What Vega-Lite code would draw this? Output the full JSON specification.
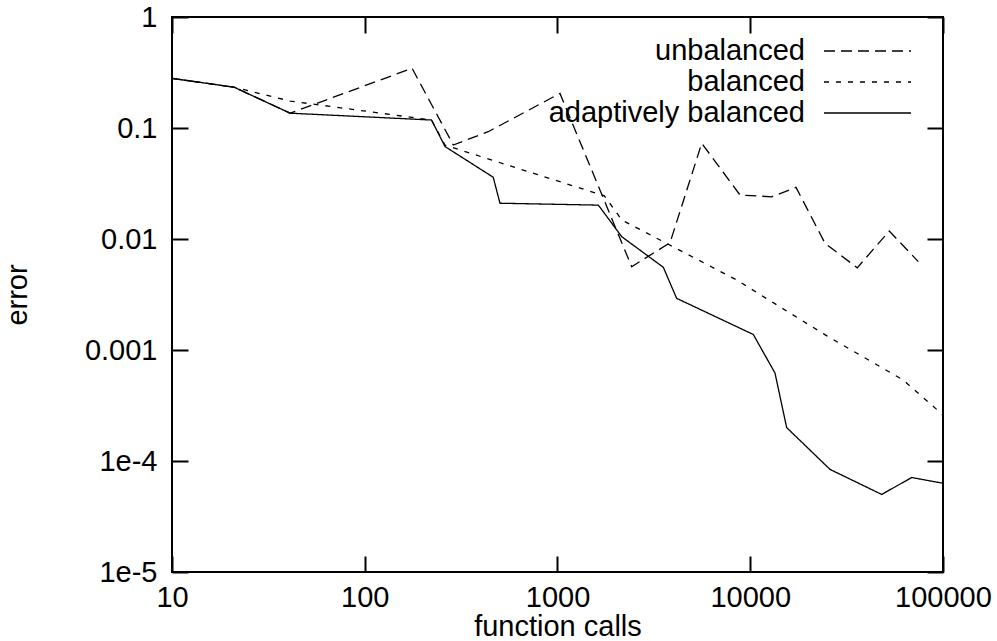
{
  "$schema": "https://vega.github.io/schema/vega-lite/v6.json",
  "width": 771,
  "height": 555,
  "autosize": "none",
  "padding": {"left": 172, "top": 17, "right": 54, "bottom": 69},
  "background": "white",
  "config": {
    "font": "Liberation Sans",
    "view": {"stroke": "black", "strokeWidth": 2},
    "axis": {
      "domain": false,
      "grid": false,
      "ticks": true,
      "tickColor": "black",
      "tickWidth": 2,
      "tickSize": -16,
      "labelColor": "black",
      "labelFontSize": 29,
      "labelFont": "Liberation Sans",
      "titleFont": "Liberation Sans",
      "titleFontSize": 29,
      "titleFontWeight": "normal",
      "titleColor": "black"
    }
  },
  "data": {
    "values": [
      {"series": "unbalanced", "calls": 10, "error": 0.28},
      {"series": "unbalanced", "calls": 21, "error": 0.233},
      {"series": "unbalanced", "calls": 41, "error": 0.136},
      {"series": "unbalanced", "calls": 176, "error": 0.345},
      {"series": "unbalanced", "calls": 288, "error": 0.0703},
      {"series": "unbalanced", "calls": 437, "error": 0.0926},
      {"series": "unbalanced", "calls": 1030, "error": 0.205},
      {"series": "unbalanced", "calls": 2426, "error": 0.00563},
      {"series": "unbalanced", "calls": 3836, "error": 0.00926},
      {"series": "unbalanced", "calls": 5600, "error": 0.0728},
      {"series": "unbalanced", "calls": 8850, "error": 0.0249},
      {"series": "unbalanced", "calls": 12920, "error": 0.024},
      {"series": "unbalanced", "calls": 17270, "error": 0.0292},
      {"series": "unbalanced", "calls": 24430, "error": 0.00915},
      {"series": "unbalanced", "calls": 35900, "error": 0.0055},
      {"series": "unbalanced", "calls": 52610, "error": 0.0118},
      {"series": "unbalanced", "calls": 74470, "error": 0.00625},
      {"series": "balanced", "calls": 10, "error": 0.28},
      {"series": "balanced", "calls": 21, "error": 0.233},
      {"series": "balanced", "calls": 41, "error": 0.175},
      {"series": "balanced", "calls": 222, "error": 0.118},
      {"series": "balanced", "calls": 261, "error": 0.07},
      {"series": "balanced", "calls": 1750, "error": 0.0245},
      {"series": "balanced", "calls": 2160, "error": 0.0148},
      {"series": "balanced", "calls": 8510, "error": 0.00427},
      {"series": "balanced", "calls": 13770, "error": 0.00254},
      {"series": "balanced", "calls": 25000, "error": 0.00134},
      {"series": "balanced", "calls": 62080, "error": 0.000537},
      {"series": "balanced", "calls": 100000, "error": 0.00026},
      {"series": "adaptively balanced", "calls": 10, "error": 0.28},
      {"series": "adaptively balanced", "calls": 21, "error": 0.233},
      {"series": "adaptively balanced", "calls": 41, "error": 0.136},
      {"series": "adaptively balanced", "calls": 222, "error": 0.118},
      {"series": "adaptively balanced", "calls": 261, "error": 0.068},
      {"series": "adaptively balanced", "calls": 464, "error": 0.036},
      {"series": "adaptively balanced", "calls": 503, "error": 0.021},
      {"series": "adaptively balanced", "calls": 1629, "error": 0.0202},
      {"series": "adaptively balanced", "calls": 2153, "error": 0.0105},
      {"series": "adaptively balanced", "calls": 3540, "error": 0.00556},
      {"series": "adaptively balanced", "calls": 4150, "error": 0.00292},
      {"series": "adaptively balanced", "calls": 10370, "error": 0.00138},
      {"series": "adaptively balanced", "calls": 13440, "error": 0.00062},
      {"series": "adaptively balanced", "calls": 15450, "error": 0.0002},
      {"series": "adaptively balanced", "calls": 25930, "error": 0.000084},
      {"series": "adaptively balanced", "calls": 48080, "error": 0.00005},
      {"series": "adaptively balanced", "calls": 68850, "error": 0.000071},
      {"series": "adaptively balanced", "calls": 100000, "error": 0.000063}
    ]
  },
  "layer": [
    {
      "mark": {"type": "line", "color": "black", "strokeWidth": 1.3},
      "encoding": {
        "x": {
          "field": "calls", "type": "quantitative",
          "scale": {"type": "log", "domain": [10, 100000]},
          "axis": {"orient": "bottom", "values": [10, 100, 1000, 10000, 100000], "format": "d", "labelPadding": 27, "title": "function calls", "titlePadding": 0, "labelFlush": false}
        },
        "y": {
          "field": "error", "type": "quantitative",
          "scale": {"type": "log", "domain": [0.00001, 1]},
          "axis": {"orient": "left", "values": [0.00001, 0.0001, 0.001, 0.01, 0.1, 1], "labelExpr": "datum.value < 0.00005 ? '1e-5' : (datum.value < 0.0005 ? '1e-4' : format(datum.value, '~g'))", "labelPadding": 31, "title": "error", "titlePadding": 52, "labelFlush": false}
        },
        "strokeDash": {
          "field": "series", "type": "nominal",
          "scale": {"domain": ["unbalanced", "balanced", "adaptively balanced"], "range": [[11, 6], [5, 7], [1, 0]]},
          "legend": {
            "title": null,
            "orient": "none",
            "legendX": 680,
            "legendY": 18.5,
            "padding": 0,
            "symbolType": "M-3,0H3",
            "symbolSize": 841,
            "symbolStrokeWidth": 1.3,
            "symbolStrokeColor": "black",
            "symbolFillColor": "transparent",
            "rowPadding": -2,
            "labelOffset": -78,
            "labelAlign": "right",
            "labelFontSize": 29,
            "labelFont": "Liberation Sans",
            "labelColor": "black",
            "labelLimit": 500
          }
        }
      }
    },
    {
      "mark": {"type": "line", "opacity": 0},
      "encoding": {
        "x": {
          "field": "calls", "type": "quantitative",
          "scale": {"type": "log", "domain": [10, 100000]},
          "axis": {"orient": "top", "values": [10, 100, 1000, 10000, 100000], "labels": false, "title": null}
        },
        "y": {
          "field": "error", "type": "quantitative",
          "scale": {"type": "log", "domain": [0.00001, 1]},
          "axis": {"orient": "right", "values": [0.00001, 0.0001, 0.001, 0.01, 0.1, 1], "labels": false, "title": null}
        },
        "detail": {"field": "series", "type": "nominal"}
      }
    }
  ],
  "resolve": {"axis": {"x": "independent", "y": "independent"}}
}
